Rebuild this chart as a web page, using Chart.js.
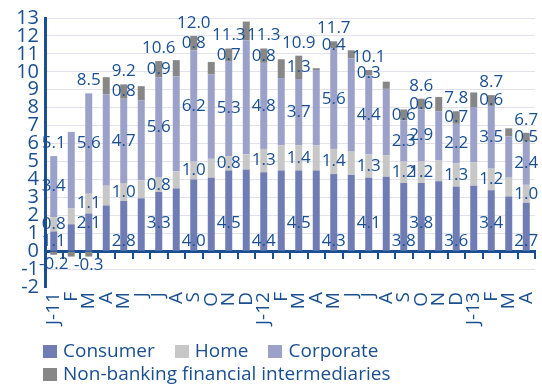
<!DOCTYPE html>
<html>
<head>
<meta charset="utf-8">
<script src="https://cdn.jsdelivr.net/npm/chart.js@4.4.1/dist/chart.umd.min.js"></script>
<style>
  html, body { margin: 0; padding: 0; background: #fff; }
  #wrap { position: relative; width: 542px; height: 386px; }
  #legend { position: absolute; left: 43px; top: 339px; width: 495px; font-family: 'Open Sans', sans-serif; font-size: 19px; line-height: 23px; color: #1a5091; }
  #legend .item { display: inline-block; margin-right: 20px; white-space: nowrap; }
  #legend i { display: inline-block; width: 14px; height: 13px; margin-right: 6px; vertical-align: -1px; }
</style>
</head>
<body>
<div id="wrap">
  <canvas id="chart"></canvas>
  <div id="legend"></div>
</div>
<script>
// Month labels
const months = ['J-11', 'F', 'M', 'A', 'M', 'J', 'J', 'A', 'S', 'O', 'N', 'D',
  'J-12', 'F', 'M', 'A', 'M', 'J', 'J', 'A', 'S', 'O', 'N', 'D',
  'J-13', 'F', 'M', 'A'];

// Series
const consumer = [1.1, 1.5, 2.1, 2.55, 2.8, 2.95, 3.3, 3.5, 4.0, 4.1, 4.5, 4.55, 4.4, 4.5,
  4.5, 4.5, 4.3, 4.25, 4.1, 4.15, 3.8, 3.8, 3.9, 3.6, 3.65, 3.4, 3.05, 2.7];
const home = [0.8, 0.9, 1.1, 1.1, 1.0, 1.0, 0.8, 0.95, 1.0, 1.05, 0.8, 0.85, 1.3, 1.4,
  1.4, 1.4, 1.4, 1.3, 1.3, 1.2, 1.2, 1.2, 1.15, 1.3, 1.3, 1.2, 1.05, 1.0];
const corporate = [3.4, 4.25, 5.6, 5.1, 4.7, 4.45, 5.6, 5.3, 6.2, 4.7, 5.3, 6.35, 4.8, 3.75,
  3.7, 4.2, 5.6, 5.2, 4.4, 3.7, 2.3, 2.9, 2.75, 2.2, 3.05, 3.5, 2.3, 2.4];
const nbfi = [-0.2, -0.3, -0.3, 0.95, 0.8, 0.8, 0.9, 0.9, 0.8, 0.7, 0.7, 1.05, 0.8, 1.05,
  1.3, 0.1, 0.4, 0.45, 0.3, 0.4, 0.6, 0.6, 0.8, 0.7, 0.85, 0.6, 0.45, 0.5];

// Printed totals (null where the picture shows none)
const totals = [5.1, null, 8.5, null, 9.2, null, 10.6, null, 12.0, null, 11.3, null, 11.3, null,
  10.9, null, 11.7, null, 10.1, null, null, 8.6, null, 7.8, null, 8.7, null, 6.7];

// Bars that carry value labels
const labelled = [0, 2, 4, 6, 8, 10, 12, 14, 16, 18, 20, 21, 23, 25, 27];

const yTicks = { min: -2, max: 13, step: 1 };

const textColor = '#1a5091';
const axisColor = '#1a4f94';
const gridColor = '#e2e2ef';

const barLabels = {
  id: 'barLabels',
  afterDatasetsDraw(chart) {
    const ctx = chart.ctx;
    const zero = chart.scales.y.getPixelForValue(0);
    ctx.save();
    ctx.font = '17px "Open Sans"';
    ctx.fillStyle = textColor;
    ctx.textAlign = 'center';
    ctx.textBaseline = 'middle';
    labelled.forEach((i, k) => {
      let top = zero;
      chart.data.datasets.forEach((ds, d) => {
        const el = chart.getDatasetMeta(d).data[i];
        const v = ds.data[i];
        let y;
        if (d === 0) {
          y = zero - (k % 2 ? 28 : 10);
        } else if (v < 0) {
          y = el.y + 9;
        } else {
          y = (el.y + el.base) / 2;
        }
        if (v > 0) top = Math.min(top, el.y);
        ctx.fillText(v.toFixed(1), el.x, y);
      });
      if (totals[i] != null) {
        const x = chart.getDatasetMeta(0).data[i].x;
        ctx.fillText(totals[i].toFixed(1), x, top - 13);
      }
    });
    ctx.restore();
  }
};

const chart = new Chart(document.getElementById('chart'), {
  type: 'bar',
  data: {
    labels: months,
    datasets: [
      { label: 'Consumer', data: consumer, backgroundColor: '#6f7db4' },
      { label: 'Home', data: home, backgroundColor: '#c7c7c7' },
      { label: 'Corporate', data: corporate, backgroundColor: '#9ba1c9' },
      { label: 'Non-banking financial intermediaries', data: nbfi, backgroundColor: '#878787' }
    ]
  },
  options: {
    responsive: true,
    maintainAspectRatio: false,
    animation: false,
    datasets: { bar: { categoryPercentage: 1, barPercentage: 0.4 } },
    layout: { padding: { top: 10, right: 7, bottom: 56, left: 0 } },
    plugins: { legend: { display: false }, tooltip: { enabled: false } },
    scales: {
      x: {
        stacked: true,
        grid: { display: false, drawTicks: false },
        border: { display: false },
        ticks: {
          color: textColor,
          font: { family: 'Open Sans', size: 19 },
          maxRotation: 90, minRotation: 90, autoSkip: false, padding: 5
        },
        afterFit(s) { s.paddingLeft = 0; s.paddingRight = 0; }
      },
      x2: {
        axis: 'x',
        type: 'category',
        labels: months,
        position: { y: 0 },
        offset: true,
        grid: { offset: true, drawOnChartArea: false, drawTicks: true, tickLength: 6, color: axisColor, lineWidth: 2 },
        border: { display: true, color: axisColor, width: 3 },
        ticks: { display: false },
        afterFit(s) { s.paddingLeft = 0; s.paddingRight = 0; }
      },
      y: {
        stacked: true,
        min: yTicks.min,
        max: yTicks.max,
        ticks: {
          stepSize: yTicks.step,
          autoSkip: false,
          color: textColor,
          font: { family: 'Open Sans', size: 20 },
          padding: 6
        },
        grid: {
          drawTicks: false,
          color: (c) => (c.tick.value === 0 || c.tick.value === yTicks.min) ? 'rgba(0,0,0,0)' : gridColor
        },
        border: { color: axisColor, width: 3 },
        afterFit(s) { s.width = 45; }
      }
    }
  },
  plugins: [barLabels]
});

// Legend below the chart
const legend = document.getElementById('legend');
chart.data.datasets.forEach(ds => {
  const item = document.createElement('span');
  item.className = 'item';
  const box = document.createElement('i');
  box.style.background = ds.backgroundColor;
  item.appendChild(box);
  item.appendChild(document.createTextNode(ds.label));
  legend.appendChild(item);
});
</script>
</body>
</html>
